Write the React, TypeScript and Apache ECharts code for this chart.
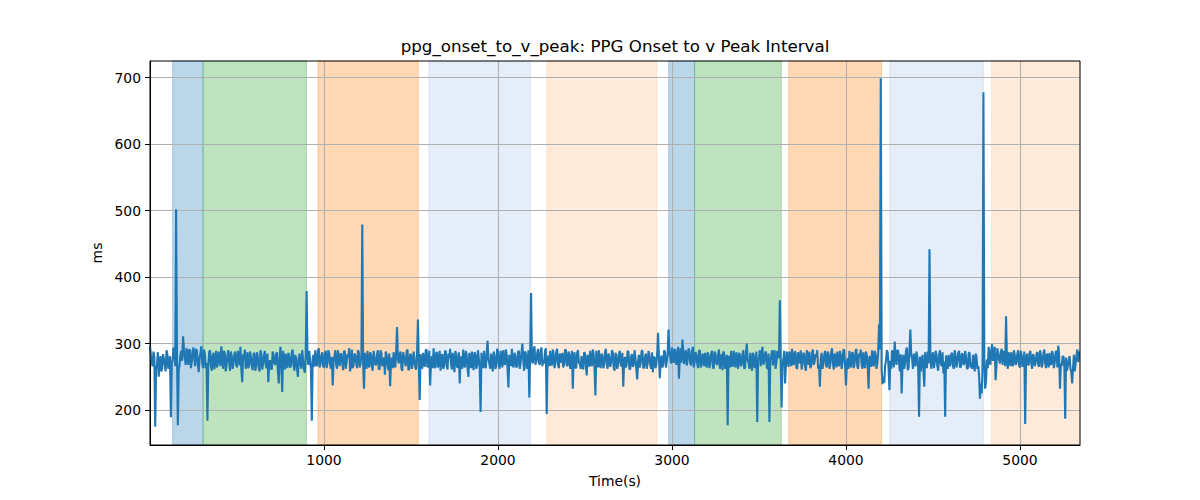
import { useEffect, useRef } from 'react';
import * as echarts from 'echarts';
import type { EChartsOption } from 'echarts';

// readings every STEP_S seconds
const STEP_S = 10;

// readings at 0, 10, 20, ... s
const VALUES: number[] = [
  296, 272, 288, 175, 268, 250, 281, 263, 277, 258,
  284, 270, 189, 276, 290, 502, 177, 268, 289, 311,
  279, 293, 268, 290, 272, 294, 266, 288, 257, 285,
  270, 291, 263, 184, 287, 266, 282, 261, 289, 270,
  278, 296, 262, 285, 267, 290, 259, 281, 270, 288,
  264, 283, 295, 242, 276, 262, 287, 268, 280, 260,
  286, 266, 279, 258, 284, 270, 289, 263, 242, 275,
  261, 283, 268, 287, 240, 295, 227, 272, 285, 263,
  281, 266, 291, 259, 277, 250, 285, 262, 274, 256,
  379, 268, 275, 184, 283, 290, 266, 293, 270, 287,
  264, 289, 271, 285, 262, 237, 281, 268, 290, 266,
  284, 260, 288, 272, 279, 258, 291, 267, 282, 263,
  287, 270, 479, 232, 276, 289, 264, 283, 259, 280,
  268, 290, 262, 285, 271, 253, 283, 260, 236, 279,
  287, 264, 325, 270, 288, 259, 280, 266, 291, 262,
  283, 269, 276, 261, 336, 215, 272, 286, 265, 290,
  268, 237, 281, 293, 263, 287, 272, 259, 284, 266,
  289, 261, 278, 270, 286, 257, 283, 265, 240, 279,
  291, 264, 282, 250, 275, 288, 260, 284, 267, 277,
  197, 272, 289, 263, 304, 270, 285, 258, 281, 266,
  287, 262, 279, 290, 268, 283, 234, 276, 292, 264,
  281, 266, 289, 271, 300, 259, 285, 270, 219, 376,
  270, 296, 273, 292, 268, 294, 275, 288, 194, 282,
  289, 267, 284, 271, 292, 263, 280, 286, 269, 291,
  266, 283, 272, 232, 287, 264, 290, 270, 281, 261,
  285, 252, 278, 289, 266, 284, 222, 275, 290, 263,
  281, 268, 292, 262, 279, 271, 286, 259, 283, 267,
  289, 265, 235, 280, 270, 287, 261, 284, 268, 279,
  246, 283, 271, 290, 264, 285, 270, 281, 262, 257,
  279, 268, 316, 248, 282, 270, 287, 273, 321, 280,
  294, 271, 289, 276, 247, 293, 306, 269, 290, 275,
  288, 267, 295, 272, 283, 263, 290, 268, 279, 286,
  264, 282, 271, 289, 262, 284, 268, 291, 273, 260,
  285, 270, 177, 281, 289, 265, 276, 287, 262, 283,
  268, 290, 264, 300, 271, 286, 259, 282, 270, 182,
  279, 266, 295, 273, 288, 262, 182, 280, 267, 290,
  271, 285, 365, 204, 276, 240, 288, 265, 283, 292,
  268, 287, 262, 281, 290, 270, 284, 259, 279, 288,
  266, 291, 273, 280, 262, 235, 286, 270, 289, 264,
  284, 269, 293, 261, 279, 288, 266, 283, 272, 290,
  237, 278, 289, 264, 285, 271, 292, 262, 280, 268,
  287, 263, 282, 232, 279, 290, 266, 284, 270, 329,
  699, 239, 241, 275, 286, 230, 262, 281, 303, 268,
  290, 258, 225, 283, 271, 294, 264, 321, 278, 285,
  266, 279, 190, 258, 283, 235, 270, 288, 442, 262,
  287, 271, 284, 259, 290, 266, 255, 190, 273, 283,
  268, 286, 262, 281, 273, 289, 264, 284, 270, 279,
  262, 287, 271, 283, 258, 280, 266, 217, 225, 678,
  232, 276, 295, 268, 299, 282, 245, 293, 276, 287,
  268, 284, 341, 262, 279, 287, 266, 283, 271, 290,
  264, 281, 270, 179, 285, 268, 289, 262, 280, 271,
  287, 265, 283, 270, 291, 263, 278, 286, 268, 282,
  272, 289, 297, 232, 266, 281, 187, 259, 275, 262,
  240, 283, 270, 291, 288,
];

// readings at 5, 15, 25, ... s
const VALUES_HALF: number[] = [
  283, 266, 279, 262, 287, 271, 258, 284, 268, 290,
  262, 281, 269, 294, 266, 287, 260, 283, 274, 292,
  268, 285, 291, 263, 288, 276, 292, 270, 279, 296,
  263, 284, 271, 266, 290, 259, 286, 273, 264, 288,
  266, 279, 289, 258, 283, 272, 288, 262, 284, 269,
  289, 267, 261, 284, 291, 270, 263, 288, 266, 284,
  259, 287, 264, 290, 261, 282, 268, 285, 270, 262,
  288, 270, 284, 259, 278, 266, 289, 261, 270, 286,
  264, 287, 268, 283, 262, 279, 268, 290, 261, 283,
  281, 289, 262, 278, 265, 271, 288, 264, 282, 266,
  286, 263, 290, 268, 280, 272, 290, 262, 276, 285,
  270, 289, 262, 284, 293, 268, 263, 285, 271, 290,
  264, 283, 268, 286, 262, 271, 287, 266, 289, 268,
  284, 261, 290, 266, 279, 288, 267, 285, 270, 263,
  268, 289, 276, 284, 263, 287, 272, 289, 260, 284,
  262, 288, 264, 286, 270, 284, 262, 270, 291, 264,
  289, 270, 263, 268, 286, 264, 289, 281, 262, 288,
  267, 285, 292, 261, 268, 289, 264, 287, 280, 262,
  270, 289, 263, 286, 263, 269, 287, 262, 290, 263,
  286, 263, 266, 285, 276, 262, 270, 288, 262, 292,
  268, 289, 264, 271, 291, 262, 283, 266, 268, 286,
  264, 287, 262, 286, 277, 288, 262, 290, 285, 274,
  290, 268, 285, 271, 290, 266, 270, 293, 275, 266,
  270, 291, 263, 288, 268, 285, 271, 264, 290, 268,
  288, 262, 289, 280, 263, 286, 271, 262, 268, 287,
  266, 283, 265, 272, 291, 262, 289, 264, 271, 285,
  263, 287, 270, 285, 265, 290, 264, 286, 262, 284,
  270, 286, 271, 264, 289, 262, 280, 265, 290, 262,
  272, 264, 288, 263, 280, 262, 289, 268, 287, 280,
  263, 285, 280, 275, 264, 290, 264, 283, 288, 270,
  276, 292, 268, 295, 280, 271, 290, 283, 267, 293,
  271, 289, 264, 287, 270, 289, 264, 285, 266, 270,
  287, 263, 285, 265, 288, 270, 283, 262, 284, 288,
  262, 283, 279, 264, 270, 289, 264, 270, 286, 266,
  284, 262, 286, 275, 262, 270, 286, 263, 288, 276,
  290, 284, 268, 285, 264, 285, 276, 290, 285, 262,
  289, 278, 272, 270, 289, 268, 273, 288, 266, 270,
  288, 264, 287, 270, 261, 286, 264, 290, 268, 263,
  285, 268, 284, 290, 268, 277, 262, 283, 268, 288,
  262, 287, 270, 285, 264, 270, 289, 262, 291, 268,
  270, 262, 271, 287, 263, 289, 266, 285, 291, 262,
  270, 288, 266, 281, 265, 270, 289, 262, 285, 291,
  262, 250, 266, 290, 262, 274, 290, 264, 281, 289,
  270, 284, 270, 262, 289, 260, 290, 283, 262, 270,
  288, 265, 280, 276, 260, 287, 263, 270, 284, 279,
  263, 289, 266, 283, 270, 287, 273, 282, 262, 266,
  284, 266, 290, 264, 286, 265, 285, 268, 289, 263,
  285, 264, 262, 270, 285, 262, 251, 240, 265, 276,
  244, 263, 280, 290, 274, 295, 268, 285, 270, 292,
  289, 266, 278, 287, 266, 272, 290, 268, 285, 267,
  289, 265, 288, 275, 268, 286, 270, 284, 266, 285,
  268, 290, 264, 286, 270, 285, 264, 270, 289, 263,
  287, 264, 283, 270, 280, 265, 279, 266, 281, 257,
  264, 258, 283, 272,
];

// shaded phases (seconds)
const BAND_STARTS = [130, 305, 965, 1603, 2280, 2981, 3130, 3671, 4251, 4837];
const BAND_ENDS = [305, 899, 1542, 2186, 2912, 3130, 3628, 4205, 4790, 5345];
const BAND_KINDS = ['blue', 'green', 'orange', 'pale', 'peach', 'blue', 'green', 'orange', 'pale', 'peach'];

// tick labels
const X_TICKS = [1000, 2000, 3000, 4000, 5000];
const Y_TICKS = [200, 300, 400, 500, 600, 700];

const X_MIN = 0;
const X_MAX = 5345;
const Y_MIN = 147.4;
const Y_MAX = 725;

const BAND_FILL: Record<string, string> = {
  blue: 'rgba(31,119,180,0.3)',
  green: 'rgba(44,160,44,0.3)',
  orange: 'rgba(255,127,14,0.3)',
  pale: 'rgba(150,185,230,0.25)',
  peach: 'rgba(255,160,80,0.22)',
};

const FONT = '"DejaVu Sans", sans-serif';

export default function App() {
  const chartRef = useRef<HTMLDivElement>(null);

  useEffect(() => {
    if (!chartRef.current) return;
    const chart = echarts.init(chartRef.current, undefined, { renderer: 'svg' });

    const lineData: number[][] = [];
    VALUES.forEach((v, i) => {
      lineData.push([i * STEP_S, v]);
      if (i < VALUES_HALF.length) lineData.push([i * STEP_S + STEP_S / 2, VALUES_HALF[i]]);
    });

    const bands = BAND_STARTS.map((s, i) => [
      {
        xAxis: s,
        itemStyle: {
          color: BAND_FILL[BAND_KINDS[i]],
          borderColor: BAND_FILL[BAND_KINDS[i]],
          borderWidth: 1,
        },
      },
      { xAxis: BAND_ENDS[i] },
    ]);

    const option: EChartsOption = {
      animation: false,
      backgroundColor: '#fff',
      textStyle: { fontFamily: FONT },
      grid: {
        left: 150,
        right: 120,
        top: 61,
        bottom: 55,
        show: true,
        borderColor: '#000',
        borderWidth: 1,
        backgroundColor: 'transparent',
        z: 4,
      },
      graphic: [
        {
          type: 'text',
          x: 615,
          y: 46,
          style: {
            text: 'ppg_onset_to_v_peak: PPG Onset to v Peak Interval',
            textAlign: 'center',
            textVerticalAlign: 'middle',
            font: `16.7px ${FONT}`,
            fill: '#000',
          },
        },
      ],
      xAxis: {
        type: 'value',
        min: X_MIN,
        max: X_MAX,
        interval: 1000,
        z: 2,
        name: 'Time(s)',
        nameLocation: 'middle',
        nameGap: 29,
        nameTextStyle: { fontSize: 13.9, color: '#000', fontFamily: FONT },
        axisLine: { show: true, lineStyle: { color: '#000', width: 1 } },
        axisTick: {
          show: true,
          length: 5,
          customValues: X_TICKS,
          lineStyle: { color: '#000', width: 1 },
        } as any,
        axisLabel: {
          fontSize: 13.9,
          color: '#000',
          fontFamily: FONT,
          margin: 8,
          customValues: X_TICKS,
          formatter: (v: number) => (v > 0 && v % 1000 === 0 ? String(v) : ''),
        } as any,
        splitLine: { show: true, lineStyle: { color: '#b0b0b0', width: 1.1 } },
      },
      yAxis: {
        type: 'value',
        min: Y_MIN,
        max: Y_MAX,
        z: 2,
        name: 'ms',
        nameLocation: 'middle',
        nameGap: 43,
        nameRotate: 90,
        nameTextStyle: { fontSize: 13.9, color: '#000', fontFamily: FONT },
        axisLine: { show: true, lineStyle: { color: '#000', width: 1 } },
        axisTick: {
          show: true,
          length: 5,
          customValues: Y_TICKS,
          lineStyle: { color: '#000', width: 1 },
        } as any,
        axisLabel: {
          fontSize: 13.9,
          color: '#000',
          fontFamily: FONT,
          margin: 9,
          customValues: Y_TICKS,
          formatter: (v: number) => (v % 100 === 0 ? String(v) : ''),
        } as any,
        splitLine: { show: true, lineStyle: { color: '#b0b0b0', width: 1.1 } },
      },
      series: [
        {
          name: 'phases',
          type: 'line',
          data: [],
          silent: true,
          markArea: {
            silent: true,
            z: 1,
            data: bands as any,
          },
        },
        {
          name: 'ppg_onset_to_v_peak',
          type: 'line',
          data: lineData,
          z: 3,
          showSymbol: false,
          lineStyle: { color: '#1f77b4', width: 2.1 },
          itemStyle: { color: '#1f77b4' },
        },
      ],
    };

    chart.setOption(option);
    return () => {
      chart.dispose();
    };
  }, []);

  return (
    <div
      ref={chartRef}
      style={{ position: 'absolute', left: 0, top: 0, width: 1200, height: 500 }}
    />
  );
}
